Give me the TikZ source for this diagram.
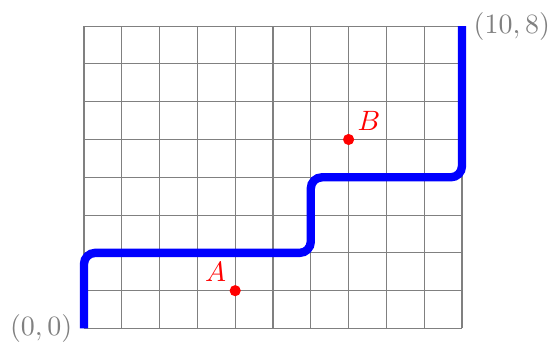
\documentclass[tikz,border=0pt]{standalone}
\begin{document}
\begin{tikzpicture}[x=0.475cm,y=0.475cm,
  gridline/.style={gray, line width=0.4pt},
  lattpath/.style={blue, line width=3pt, rounded corners=4pt},
  ptdot/.style={circle, fill=red, inner sep=0pt, minimum size=4pt},
  ptlabel/.style={text=red, inner sep=1.5pt},
  cornerlabel/.style={text=gray, inner sep=4pt}]
\useasboundingbox (-2.222,-0.355) rectangle (12.434,8.69);
\foreach \i in {0,...,10} \draw[gridline] (\i,0) -- (\i,8);
\foreach \j in {0,...,8} \draw[gridline] (0,\j) -- (10,\j);
\coordinate (O) at (0,0);
\coordinate (P1) at (0,2);
\coordinate (P2) at (6,2);
\coordinate (P3) at (6,4);
\coordinate (P4) at (10,4);
\coordinate (E) at (10,8);
\draw[lattpath] (O) -- (P1) -- (P2) -- (P3) -- (P4) -- (E);
\node[ptdot, label={[ptlabel]above left:$A$}] (A) at (4,1) {};
\node[ptdot, label={[ptlabel]above right:$B$}] (B) at (7,5) {};
\node[cornerlabel, left] (lo) at (O) {$(0,0)$};
\node[cornerlabel, right] (le) at (E) {$(10,8)$};
\end{tikzpicture}
\end{document}
